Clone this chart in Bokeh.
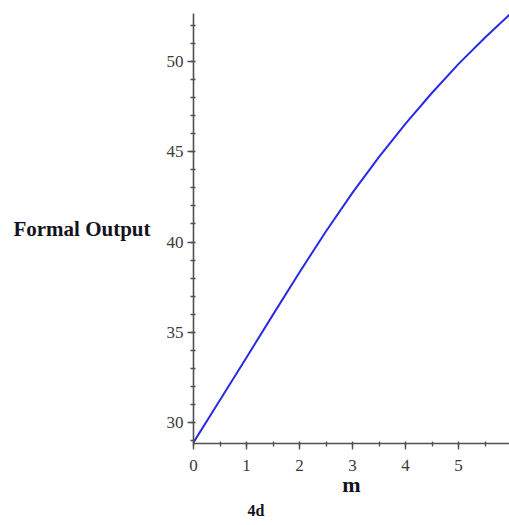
from bokeh.plotting import figure
from bokeh.models import SingleIntervalTicker, Range1d, Title
from bokeh.embed import file_html
from bokeh.resources import INLINE

# Data
m_vals = [0, 0.5, 1, 1.5, 2, 2.5, 3, 3.5, 4, 4.5, 5, 5.5, 6]
output_vals = [28.9, 31.25, 33.6, 35.98, 38.33, 40.6, 42.74, 44.72, 46.56, 48.27, 49.87, 51.33, 52.7]

x_label = "m"
y_label = "Formal Output"
caption = "4d"

p = figure(width=509, height=525, output_backend="svg", toolbar_location=None,
           x_range=Range1d(0, 5.96), y_range=Range1d(28.84, 52.66),
           min_border_left=193, min_border_right=0, min_border_top=13,
           min_border_bottom=82)
p.outline_line_color = None
p.xgrid.visible = False
p.ygrid.visible = False
p.background_fill_color = "white"
p.border_fill_color = "white"

p.line(m_vals, output_vals, line_color="#2a2ae6", line_width=2)

serif = "Liberation Serif"
for ax in (p.xaxis[0], p.yaxis[0]):
    ax.axis_line_color = "#505050"
    ax.axis_line_width = 1.6
    ax.major_tick_line_color = "#505050"
    ax.minor_tick_line_color = "#505050"
    ax.major_tick_line_width = 1.4
    ax.minor_tick_line_width = 1.4
    ax.major_tick_out = 6
    ax.major_tick_in = 0
    ax.minor_tick_out = 3
    ax.minor_tick_in = 2
    ax.major_label_text_font = serif
    ax.major_label_text_font_size = "17px"
    ax.major_label_text_color = "#3a3a3a"
    ax.axis_label_text_font = serif
    ax.axis_label_text_font_style = "bold"
    ax.axis_label_text_color = "#141420"

p.xaxis[0].ticker = SingleIntervalTicker(interval=1, num_minor_ticks=2)
p.yaxis[0].ticker = SingleIntervalTicker(interval=5, num_minor_ticks=5)
p.xaxis[0].major_label_standoff = 10
p.yaxis[0].major_label_standoff = 4

p.xaxis[0].axis_label = x_label
p.xaxis[0].axis_label_text_font_size = "22px"
p.xaxis[0].axis_label_standoff = -2

p.yaxis[0].axis_label = y_label
p.yaxis[0].axis_label_orientation = "horizontal"
p.yaxis[0].axis_label_text_font_size = "21px"
p.yaxis[0].axis_label_standoff = 13

cap = Title(text=caption, align="left", offset=54, text_font=serif,
            text_font_style="bold", text_font_size="16px", text_color="#141420",
            standoff=0)
p.add_layout(cap, "below")

open("out.html", "w").write(file_html(p, INLINE))
